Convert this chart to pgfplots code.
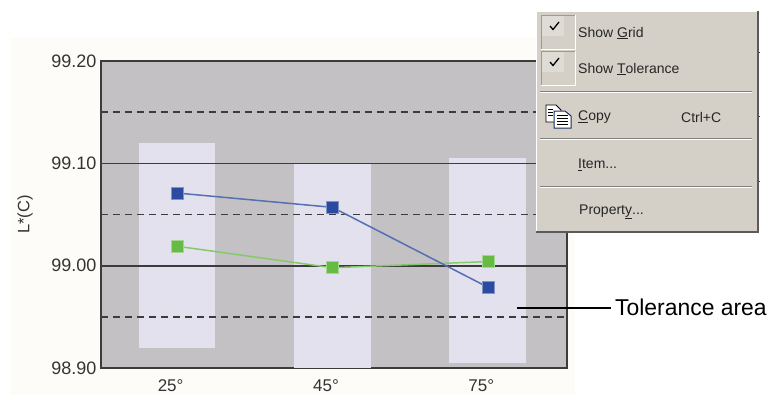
\documentclass[border=0pt]{standalone}
\usepackage{pgfplots}
\pgfplotsset{compat=1.18}
\usepackage{fontspec}
\setmainfont{Liberation Sans}
\definecolor{cream}{HTML}{FDFCF8}
\definecolor{plotbg}{HTML}{C3C1C4}
\definecolor{tol}{HTML}{E4E1EF}
\definecolor{framec}{HTML}{3C3C3C}
\definecolor{blueS}{HTML}{2B4BA0}
\definecolor{greenS}{HTML}{66BB44}
\definecolor{menuc}{HTML}{D4D0C8}
\definecolor{menud}{HTML}{808080}
\newcommand{\fs}[1]{\fontsize{#1bp}{#1bp}\selectfont}
\pgfplotstableread{
x y
0 99.071
1 99.057
2 98.979
}\bluedata
\pgfplotstableread{
x y
0 99.019
1 98.998
2 99.004
}\greendata
\begin{document}
\begin{tikzpicture}[x=1bp,y=-1bp,line cap=butt]
\useasboundingbox (0,0) rectangle (770,395);
\fill[white] (0,0) rectangle (770,395);
\fill[cream] (10,38) rectangle (575,395);
\begin{axis}[
  at={(101bp,-368bp)},anchor=south west,
  scale only axis,width=466bp,height=307bp,
  xmin=-0.49,xmax=2.51,ymin=98.9,ymax=99.2,
  xtick={0,1,2},xticklabels={25°,45°,75°},
  ytick={98.9,99.0,99.1,99.2},
  yticklabel style={/pgf/number format/fixed,/pgf/number format/fixed zerofill,/pgf/number format/precision=2,/pgf/number format/assume math mode=true,font=\fs{18},text=black!80,inner sep=0pt,xshift=-4.5bp},
  xticklabel style={font=\fs{17},text=black!80,inner sep=0pt,yshift=-11bp,xshift=-6.5bp},
  major tick length=0pt,
  axis line style={draw=framec,line width=1.6bp},
  axis background/.style={fill=plotbg},
  clip=true,
]
\addplot[fill=tol,draw=none] coordinates {(-0.247,98.92)(0.247,98.92)(0.247,99.12)(-0.247,99.12)} --cycle;
\addplot[fill=tol,draw=none] coordinates {(0.753,98.90)(1.247,98.90)(1.247,99.10)(0.753,99.10)} --cycle;
\addplot[fill=tol,draw=none] coordinates {(1.753,98.905)(2.247,98.905)(2.247,99.105)(1.753,99.105)} --cycle;
\addplot[framec,line width=1.5bp,dash pattern=on 7bp off 5bp] coordinates {(-0.49,99.15)(2.51,99.15)};
\addplot[framec,line width=1.5bp,dash pattern=on 7bp off 5bp] coordinates {(-0.49,99.05)(2.51,99.05)};
\addplot[framec,line width=1.5bp,dash pattern=on 7bp off 5bp] coordinates {(-0.49,98.95)(2.51,98.95)};
\addplot[framec,line width=1.6bp] coordinates {(-0.49,99.10)(2.51,99.10)};
\addplot[framec,line width=2bp] coordinates {(-0.49,99.00)(2.51,99.00)};
\addplot[greenS!80!white,line width=1.5bp,mark=square*,mark size=6bp,mark options={fill=greenS,draw=greenS!60!white,line width=0.5bp}] table[x=x,y=y] {\greendata};
\addplot[blueS!80!white,line width=1.5bp,mark=square*,mark size=6bp,mark options={fill=blueS,draw=blueS!60!white,line width=0.5bp}] table[x=x,y=y] {\bluedata};
\end{axis}
\node[rotate=90,font=\fs{16.5},text=black!80] at (25,214.5) {L*(C)};
% annotation
\draw[black,line width=1.4bp] (517,308) -- (611,308);
\node[anchor=west,inner sep=0pt,font=\fs{22.9},text=black] at (615,307) {Tolerance area};
% menu
\fill[menud!70!black] (757,11) rectangle (758.5,232);
\fill[menud!70!black] (536,231) rectangle (758.5,232.5);
\fill[menuc] (536,11) rectangle (757,231);
\draw[white,line width=1bp] (536.5,231) -- (536.5,11.5) -- (757,11.5);
\draw[menud!80!white,line width=0.8bp] (541,49) -- (541,15) -- (575,15);
\draw[white,line width=1bp] (541,49.5) -- (575,49.5) -- (575,15);
\draw[menud!80!white,line width=0.8bp] (541,85) -- (541,51) -- (575,51);
\draw[white,line width=1bp] (541,85.5) -- (575,85.5) -- (575,51);
\fill[menuc!75!white] (542,16) rectangle (564,36);
\fill[menuc!75!white] (542,52) rectangle (564,72);
\draw[black,line width=1.3bp] (550,26) -- (553,29.5) -- (559,22);
\draw[black,line width=1.3bp] (550,62) -- (553,65.5) -- (559,58);
\foreach \yy in {91,138,186}{
  \draw[menud,line width=0.8bp] (540,\yy) -- (752,\yy);
  \draw[white,line width=0.8bp] (540,\yy+1) -- (752,\yy+1);
}
\begin{scope}[every node/.style={anchor=west,inner sep=0pt,font=\fs{14},text=black!85}]
\node at (578,33) {Show \underline{G}rid};
\node at (578,69) {Show \underline{T}olerance};
\node at (578,117) {\underline{C}opy};
\node at (681,117) {Ctrl+C};
\node at (578,165) {\underline{I}tem...};
\node at (579,212) {Propert\underline{y}...};
\end{scope}
% copy icon
\draw[black,fill=white,line width=0.8bp] (546,105) -- (556,105) -- (561,110) -- (561,122) -- (546,122) -- cycle;
\draw[blueS!60!black,fill=white,line width=1bp] (554,111) -- (565,111) -- (571,116) -- (571,128) -- (554,128) -- cycle;
\foreach \yy in {115,118,121,124}{\draw[black,line width=0.7bp] (557,\yy) -- (568,\yy);}
\foreach \yy in {109,112,115}{\draw[black,line width=0.7bp] (548,\yy) -- (553,\yy);}
% tiny grid remnants beyond the menu
\foreach \yy in {52,116,181}{\fill[framec] (758.5,\yy) rectangle (760,\yy+1);}
\end{tikzpicture}
\end{document}
